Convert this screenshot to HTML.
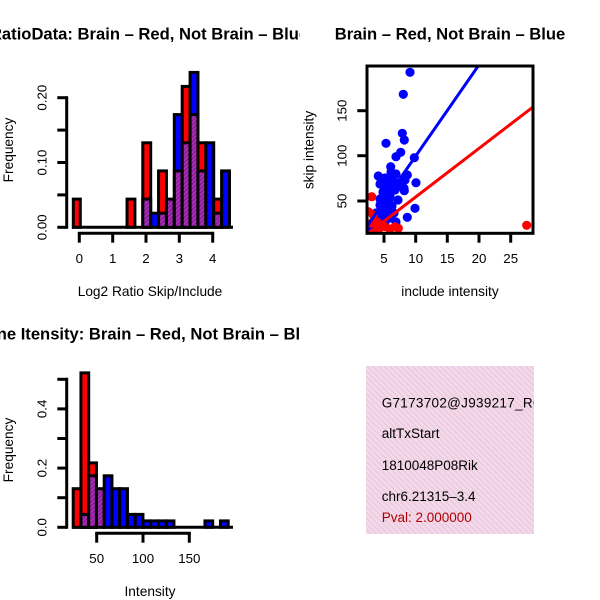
<!DOCTYPE html>
<html><head><meta charset="utf-8"><style>
html,body{margin:0;padding:0;background:#fff;}
svg{display:block;}
text{font-family:"Liberation Sans",Arial,sans-serif;}
</style></head><body>
<svg width="600" height="600" viewBox="0 0 600 600" xmlns="http://www.w3.org/2000/svg">
<defs>
<pattern id="pp" width="3" height="3" patternUnits="userSpaceOnUse" patternTransform="rotate(45)">
<rect width="3" height="3" fill="#8c1a9a"/><rect width="1.4" height="3" fill="#a836b6"/></pattern>
<pattern id="bg" width="4" height="4" patternUnits="userSpaceOnUse" patternTransform="rotate(-45)">
<rect width="4" height="4" fill="#f9d4f3"/><rect width="1.2" height="4" fill="#dcd2c8"/></pattern>
<clipPath id="c1"><rect x="0" y="0" width="300" height="300"/></clipPath>
<clipPath id="c3"><rect x="0" y="300" width="300" height="300"/></clipPath>
<clipPath id="cb"><rect x="367" y="66" width="166" height="167.3"/></clipPath>
<clipPath id="ct"><rect x="366" y="366" width="168" height="168"/></clipPath>
</defs>

<!-- ===== Top-left histogram ===== -->
<text x="149" y="39.3" font-size="16.6" font-weight="bold" text-anchor="middle" clip-path="url(#c1)">RatioData: Brain – Red, Not Brain – Blue</text>
<g stroke="#000" stroke-width="3">
<line x1="72" y1="227.3" x2="233" y2="227.3"/>
<rect x="73.3" y="199.1" width="7" height="28.2" fill="#f00"/>
<rect x="127.04" y="199.1" width="7.88" height="28.2" fill="#f00"/>
<rect x="142.8" y="142.8" width="7.88" height="84.5" fill="#f00"/>
<rect x="142.8" y="199.1" width="7.88" height="28.2" fill="url(#pp)"/>
<rect x="150.68" y="213.2" width="7.88" height="14.1" fill="#00f"/>
<rect x="158.56" y="170.9" width="7.88" height="56.4" fill="#f00"/>
<rect x="158.56" y="213.2" width="7.88" height="14.1" fill="url(#pp)"/>
<rect x="166.44" y="199.1" width="7.88" height="28.2" fill="url(#pp)"/>
<rect x="174.32" y="114.6" width="7.88" height="112.7" fill="#00f"/>
<rect x="174.32" y="170.9" width="7.88" height="56.4" fill="url(#pp)"/>
<rect x="182.2" y="86.4" width="7.88" height="140.9" fill="#f00"/>
<rect x="182.2" y="142.8" width="7.88" height="84.5" fill="url(#pp)"/>
<rect x="190.08" y="72.4" width="7.88" height="154.9" fill="#00f"/>
<rect x="190.08" y="114.6" width="7.88" height="112.7" fill="url(#pp)"/>
<rect x="197.96" y="142.8" width="7.88" height="84.5" fill="#f00"/>
<rect x="197.96" y="170.9" width="7.88" height="56.4" fill="url(#pp)"/>
<rect x="205.84" y="142.8" width="7.88" height="84.5" fill="#00f"/>
<rect x="213.72" y="199.1" width="7.88" height="28.2" fill="#f00"/>
<rect x="213.72" y="213.2" width="7.88" height="14.1" fill="url(#pp)"/>
<rect x="221.6" y="170.9" width="7.88" height="56.4" fill="#00f"/>
<line x1="66.7" y1="96.2" x2="66.7" y2="228.8"/>
<line x1="57.3" y1="227.3" x2="66.7" y2="227.3"/>
<line x1="57.3" y1="194.9" x2="66.7" y2="194.9"/>
<line x1="57.3" y1="162.5" x2="66.7" y2="162.5"/>
<line x1="57.3" y1="130.1" x2="66.7" y2="130.1"/>
<line x1="57.3" y1="97.7" x2="66.7" y2="97.7"/>
<line x1="77.8" y1="233.3" x2="214.2" y2="233.3"/>
<line x1="79.3" y1="233.3" x2="79.3" y2="242.7"/>
<line x1="112.7" y1="233.3" x2="112.7" y2="242.7"/>
<line x1="146" y1="233.3" x2="146" y2="242.7"/>
<line x1="179.3" y1="233.3" x2="179.3" y2="242.7"/>
<line x1="212.7" y1="233.3" x2="212.7" y2="242.7"/>
</g>
<g font-size="13.3" text-anchor="middle">
<text x="79.3" y="263">0</text>
<text x="112.7" y="263">1</text>
<text x="146" y="263">2</text>
<text x="179.3" y="263">3</text>
<text x="212.7" y="263">4</text>
<text transform="translate(46.6,227.3) rotate(-90)">0.00</text>
<text transform="translate(46.6,162.5) rotate(-90)">0.10</text>
<text transform="translate(46.6,97.7) rotate(-90)">0.20</text>
</g>
<text x="150" y="296" font-size="13.7" text-anchor="middle">Log2 Ratio Skip/Include</text>
<text transform="translate(12.8,150) rotate(-90)" font-size="13.7" text-anchor="middle">Frequency</text>

<!-- ===== Top-right scatter ===== -->
<text x="450" y="39.3" font-size="16.6" font-weight="bold" text-anchor="middle">Brain – Red, Not Brain – Blue</text>
<g clip-path="url(#cb)">
<g fill="#00f">
<circle cx="410" cy="72.3" r="4.6"/>
<circle cx="403.3" cy="94.3" r="4.6"/>
<circle cx="402.3" cy="133.3" r="4.6"/>
<circle cx="404.3" cy="140" r="4.6"/>
<circle cx="386" cy="143.3" r="4.6"/>
<circle cx="400.7" cy="152.3" r="4.6"/>
<circle cx="396" cy="156.7" r="4.6"/>
<circle cx="414.3" cy="157.7" r="4.6"/>
<circle cx="390.7" cy="166.7" r="4.6"/>
<circle cx="378.3" cy="176" r="4.6"/>
<circle cx="416" cy="182.7" r="4.6"/>
<circle cx="404.3" cy="190.7" r="4.6"/>
<circle cx="415" cy="208.3" r="4.6"/>
<circle cx="407.3" cy="217.3" r="4.6"/>
<circle cx="407.3" cy="175" r="4.6"/>
<circle cx="404" cy="188.3" r="4.6"/>
<circle cx="385" cy="178" r="4.6"/>
<circle cx="392" cy="180" r="4.6"/>
<circle cx="398" cy="183" r="4.6"/>
<circle cx="380" cy="184" r="4.6"/>
<circle cx="388" cy="187" r="4.6"/>
<circle cx="395" cy="190" r="4.6"/>
<circle cx="383" cy="192" r="4.6"/>
<circle cx="390" cy="196" r="4.6"/>
<circle cx="380" cy="199" r="4.6"/>
<circle cx="386" cy="203" r="4.6"/>
<circle cx="392" cy="206" r="4.6"/>
<circle cx="381" cy="208" r="4.6"/>
<circle cx="388" cy="212" r="4.6"/>
<circle cx="383" cy="216" r="4.6"/>
<circle cx="378" cy="220" r="4.6"/>
<circle cx="390" cy="218" r="4.6"/>
<circle cx="394" cy="213" r="4.6"/>
<circle cx="376" cy="213" r="4.6"/>
<circle cx="374" cy="225" r="4.6"/>
<circle cx="385" cy="222" r="4.6"/>
<circle cx="400" cy="186" r="4.6"/>
<circle cx="405" cy="180" r="4.6"/>
<circle cx="372" cy="228" r="4.6"/>
<circle cx="396" cy="174" r="4.6"/>
<circle cx="391" cy="172" r="4.6"/>
<circle cx="398" cy="200" r="4.6"/>
<circle cx="384" cy="184" r="4.6"/>
<circle cx="386" cy="195" r="4.6"/>
<circle cx="379" cy="227" r="4.6"/>
<circle cx="396" cy="222" r="4.6"/>
<circle cx="384" cy="210" r="4.6"/>
<circle cx="389" cy="200" r="4.6"/>
<circle cx="380" cy="205" r="4.6"/>
<circle cx="393" cy="185" r="4.6"/>
<circle cx="387" cy="218" r="4.6"/>
</g>
<g fill="#f00">
<circle cx="371.7" cy="196.7" r="4.6"/>
<circle cx="526.7" cy="225.3" r="4.6"/>
<circle cx="368.3" cy="211.7" r="4.6"/>
<circle cx="373.3" cy="215" r="4.6"/>
<circle cx="371.7" cy="223" r="4.6"/>
<circle cx="378.3" cy="230" r="4.6"/>
<circle cx="385" cy="226.7" r="4.6"/>
<circle cx="395" cy="226.7" r="4.6"/>
<circle cx="398.3" cy="228.3" r="4.6"/>
<circle cx="390" cy="229" r="4.6"/>
<circle cx="381" cy="225" r="4.6"/>
<circle cx="376.7" cy="221.7" r="4.6"/>
</g>
<line x1="355" y1="243.5" x2="490" y2="49" stroke="#00f" stroke-width="3"/>
<line x1="355" y1="243.5" x2="545" y2="97.8" stroke="#f00" stroke-width="3"/>
</g>
<g stroke="#000" stroke-width="3">
<rect x="367" y="66" width="166" height="167.3" fill="none"/>
<line x1="384" y1="233.3" x2="384" y2="242.7"/>
<line x1="415.7" y1="233.3" x2="415.7" y2="242.7"/>
<line x1="447.3" y1="233.3" x2="447.3" y2="242.7"/>
<line x1="479" y1="233.3" x2="479" y2="242.7"/>
<line x1="510.7" y1="233.3" x2="510.7" y2="242.7"/>
<line x1="357.3" y1="201" x2="367" y2="201"/>
<line x1="357.3" y1="155.7" x2="367" y2="155.7"/>
<line x1="357.3" y1="110.7" x2="367" y2="110.7"/>
</g>
<g font-size="13.3" text-anchor="middle">
<text x="384" y="263">5</text>
<text x="415.7" y="263">10</text>
<text x="447.3" y="263">15</text>
<text x="479" y="263">20</text>
<text x="510.7" y="263">25</text>
<text transform="translate(346.6,201) rotate(-90)">50</text>
<text transform="translate(346.6,155.7) rotate(-90)">100</text>
<text transform="translate(346.6,110.7) rotate(-90)">150</text>
</g>
<text x="450" y="296" font-size="13.7" text-anchor="middle">include intensity</text>
<text transform="translate(313.4,150) rotate(-90)" font-size="13.7" text-anchor="middle">skip intensity</text>

<!-- ===== Bottom-left histogram ===== -->
<text x="147" y="339.3" font-size="16.6" font-weight="bold" text-anchor="middle" clip-path="url(#c3)">Gene Itensity: Brain – Red, Not Brain – Blue</text>
<g stroke="#000" stroke-width="3">
<line x1="72" y1="527.3" x2="233" y2="527.3"/>
<rect x="73.2" y="488.7" width="7.75" height="38.6" fill="#f00"/>
<rect x="80.95" y="372.9" width="7.75" height="154.4" fill="#f00"/>
<rect x="80.95" y="514.4" width="7.75" height="12.9" fill="url(#pp)"/>
<rect x="88.7" y="462.9" width="7.75" height="64.4" fill="#f00"/>
<rect x="88.7" y="475.8" width="7.75" height="51.5" fill="url(#pp)"/>
<rect x="96.45" y="488.7" width="7.75" height="38.6" fill="url(#pp)"/>
<rect x="104.2" y="475.8" width="7.75" height="51.5" fill="#00f"/>
<rect x="111.95" y="488.7" width="7.75" height="38.6" fill="#00f"/>
<rect x="119.7" y="488.7" width="7.75" height="38.6" fill="#00f"/>
<rect x="127.45" y="514.4" width="7.75" height="12.9" fill="#00f"/>
<rect x="135.2" y="514.4" width="7.75" height="12.9" fill="#00f"/>
<rect x="142.95" y="520.9" width="7.75" height="6.4" fill="#00f"/>
<rect x="150.7" y="520.9" width="7.75" height="6.4" fill="#00f"/>
<rect x="158.45" y="520.9" width="7.75" height="6.4" fill="#00f"/>
<rect x="166.2" y="520.9" width="7.75" height="6.4" fill="#00f"/>
<rect x="204.95" y="520.9" width="7.75" height="6.4" fill="#00f"/>
<rect x="220.45" y="520.9" width="7.75" height="6.4" fill="#00f"/>
<line x1="66.7" y1="377.8" x2="66.7" y2="528.8"/>
<line x1="57.3" y1="527.3" x2="66.7" y2="527.3"/>
<line x1="57.3" y1="497.7" x2="66.7" y2="497.7"/>
<line x1="57.3" y1="468.1" x2="66.7" y2="468.1"/>
<line x1="57.3" y1="438.5" x2="66.7" y2="438.5"/>
<line x1="57.3" y1="408.9" x2="66.7" y2="408.9"/>
<line x1="57.3" y1="379.3" x2="66.7" y2="379.3"/>
<line x1="95.2" y1="533.3" x2="190.8" y2="533.3"/>
<line x1="96.7" y1="533.3" x2="96.7" y2="542.7"/>
<line x1="143" y1="533.3" x2="143" y2="542.7"/>
<line x1="189.3" y1="533.3" x2="189.3" y2="542.7"/>
</g>
<g font-size="13.3" text-anchor="middle">
<text x="96.7" y="563">50</text>
<text x="143" y="563">100</text>
<text x="189.3" y="563">150</text>
<text transform="translate(46.6,527.3) rotate(-90)">0.0</text>
<text transform="translate(46.6,468.1) rotate(-90)">0.2</text>
<text transform="translate(46.6,408.9) rotate(-90)">0.4</text>
</g>
<text x="150" y="596" font-size="13.7" text-anchor="middle">Intensity</text>
<text transform="translate(12.8,450) rotate(-90)" font-size="13.7" text-anchor="middle">Frequency</text>

<!-- ===== Bottom-right text panel ===== -->
<rect x="366" y="366" width="168" height="168" fill="url(#bg)"/>
<g clip-path="url(#ct)" font-size="13.5">
<text x="381.7" y="407.5" letter-spacing="0.3">G7173702@J939217_RC</text>
<text x="381.7" y="438.1">altTxStart</text>
<text x="381.7" y="469.8">1810048P08Rik</text>
<text x="381.7" y="500.8">chr6.21315–3.4</text>
<text x="381.7" y="522.1" fill="#b00000">Pval: 2.000000</text>
</g>
</svg>
</body></html>
